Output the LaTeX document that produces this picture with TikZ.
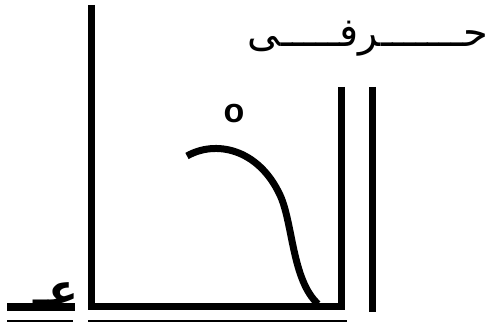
\documentclass[tikz,border=0pt]{standalone}
\usepackage{fontspec}
\setsansfont{Liberation Sans}
\newfontfamily\arabicfont[Script=Arabic]{DejaVu Sans}
\TeXXeTstate=1
\begin{document}
\begin{tikzpicture}[x=1pt, y=-1pt,
  stem/.style={line width=7pt, line cap=butt, line join=miter},
  rule/.style={line width=2.5pt},
  arabic/.style={font=\arabicfont\fontsize{40}{40}\selectfont, inner sep=0pt}
]
\useasboundingbox (0,0) rectangle (488,328);

% the word at the top right
\node[arabic, anchor=east] (word) at (488,39) {\beginR حـــــــرفـــــى\endR};

% the letter frame
\draw[stem] (91,5) |- (345,307);
\draw[stem] (341.5,87) -- (341.5,310.5);
\draw[stem] (372,87) -- (372,312);
\draw[line width=7pt] (187,156) .. controls (215,140) and (258,148) .. (280,195)
  .. controls (293,223) and (292,280) .. (318,304);
\node[font=\sffamily\bfseries\fontsize{34}{34}\selectfont, inner sep=0pt] (sukun) at (234,114) {o};

% the small letter at the bottom left
\draw[stem, line width=8pt] (7,307.5) -- (75,307.5);
\node[arabic, font=\arabicfont\bfseries\fontsize{44}{44}\selectfont, anchor=south] (ain) at (56,306) {\beginR عـ\endR};

% underlines
\draw[rule] (7,321) -- (73,321);
\draw[rule] (88,321) -- (347,321);
\end{tikzpicture}
\end{document}
